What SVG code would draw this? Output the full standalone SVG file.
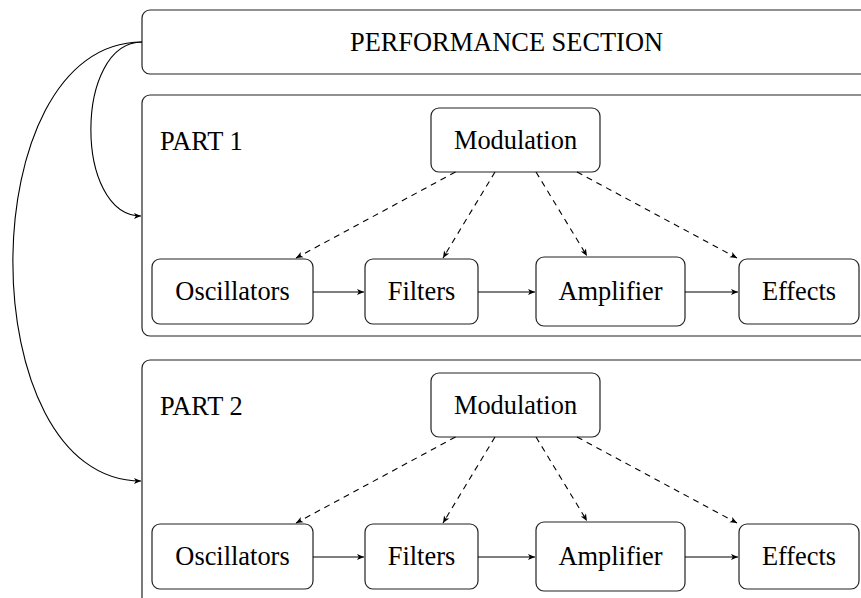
<svg xmlns="http://www.w3.org/2000/svg" width="861" height="598" viewBox="0 0 861 598" font-family="Liberation Serif, Times New Roman, serif">
<style>
.box{fill:#fff;stroke:#222;stroke-width:1.2}
.t{font-size:26.4px;fill:#000}
.c{text-anchor:middle}
.e{fill:none;stroke:#000;stroke-width:1.1}
.d{stroke-dasharray:6,5}
</style>
<defs>
<marker id="ah" viewBox="-8 -4 9 8" refX="0" refY="0" markerWidth="9" markerHeight="8" markerUnits="userSpaceOnUse" orient="auto">
<path d="M0,0 L-7,-3 L-5.2,0 L-7,3 Z" fill="#000"/>
</marker>
</defs>
<rect width="861" height="598" fill="#fff"/>
<g id="performance">
<rect class="box" x="142" y="10" width="740" height="64" rx="8"/>
<text class="t c" x="506.5" y="51">PERFORMANCE SECTION</text>
</g>
<g id="part1">
<rect class="box" x="142" y="95" width="740" height="241" rx="8"/>
<text class="t" x="160" y="150">PART 1</text>
</g>
<g id="part2">
<rect class="box" x="142" y="360" width="740" height="260" rx="8"/>
<text class="t" x="160" y="415">PART 2</text>
</g>
<g id="p1-modulation"><rect class="box" x="431" y="108" width="169" height="64" rx="8"/><text class="t c" x="515.5" y="149">Modulation</text></g>
<g id="p1-oscillators"><rect class="box" x="152" y="259" width="161" height="65" rx="8"/><text class="t c" x="232.5" y="300">Oscillators</text></g>
<g id="p1-filters"><rect class="box" x="365" y="259" width="113" height="65" rx="8"/><text class="t c" x="421.5" y="300">Filters</text></g>
<g id="p1-amplifier"><rect class="box" x="536" y="257" width="149" height="69" rx="8"/><text class="t c" x="610.5" y="300">Amplifier</text></g>
<g id="p1-effects"><rect class="box" x="739" y="259" width="120" height="65" rx="8"/><text class="t c" x="799" y="300">Effects</text></g>
<g id="p2-modulation"><rect class="box" x="431" y="373" width="169" height="64" rx="8"/><text class="t c" x="515.5" y="414">Modulation</text></g>
<g id="p2-oscillators"><rect class="box" x="152" y="524" width="161" height="65" rx="8"/><text class="t c" x="232.5" y="565">Oscillators</text></g>
<g id="p2-filters"><rect class="box" x="365" y="524" width="113" height="65" rx="8"/><text class="t c" x="421.5" y="565">Filters</text></g>
<g id="p2-amplifier"><rect class="box" x="536" y="522" width="149" height="69" rx="8"/><text class="t c" x="610.5" y="565">Amplifier</text></g>
<g id="p2-effects"><rect class="box" x="739" y="524" width="120" height="65" rx="8"/><text class="t c" x="799" y="565">Effects</text></g>
<g id="connectors">
<path class="e" d="M142,42 C74,42 74,216 141,216" marker-end="url(#ah)"/>
<path class="e" d="M142,42 C-30,42 -30,481 141,481" marker-end="url(#ah)"/>
<g id="p1-edges">
<path class="e" d="M313,292 H364" marker-end="url(#ah)"/>
<path class="e" d="M478,292 H535" marker-end="url(#ah)"/>
<path class="e" d="M685,292 H738" marker-end="url(#ah)"/>
<path class="e d" d="M455.5,172 L296,258" marker-end="url(#ah)"/>
<path class="e d" d="M495,172 L443,258" marker-end="url(#ah)"/>
<path class="e d" d="M536,172 L587,256" marker-end="url(#ah)"/>
<path class="e d" d="M577,172 L737,258" marker-end="url(#ah)"/>
</g>
<g id="p2-edges">
<path class="e" d="M313,557 H364" marker-end="url(#ah)"/>
<path class="e" d="M478,557 H535" marker-end="url(#ah)"/>
<path class="e" d="M685,557 H738" marker-end="url(#ah)"/>
<path class="e d" d="M455.5,437 L296,523" marker-end="url(#ah)"/>
<path class="e d" d="M495,437 L443,523" marker-end="url(#ah)"/>
<path class="e d" d="M536,437 L587,521" marker-end="url(#ah)"/>
<path class="e d" d="M577,437 L737,523" marker-end="url(#ah)"/>
</g>
</g>
</svg>
